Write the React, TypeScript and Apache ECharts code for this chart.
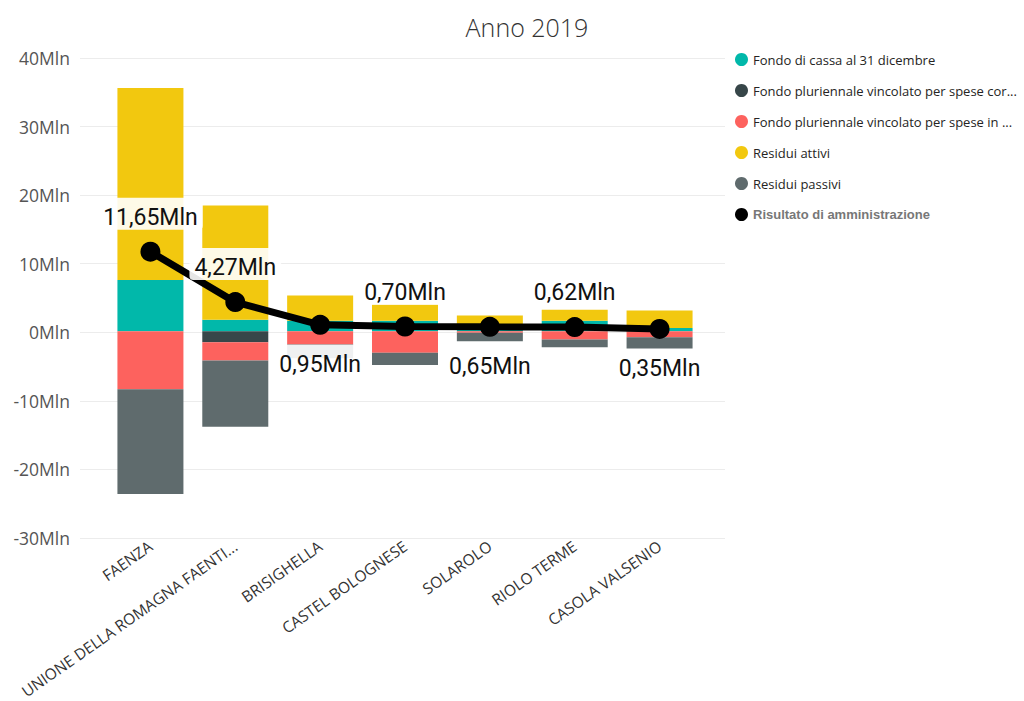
import React, { useEffect, useRef } from "react";
import * as echarts from "echarts";

const categories = [
  "FAENZA",
  "UNIONE DELLA ROMAGNA FAENTI...",
  "BRISIGHELLA",
  "CASTEL BOLOGNESE",
  "SOLAROLO",
  "RIOLO TERME",
  "CASOLA VALSENIO",
];
const fondoCassa = [7.5, 1.7, 1.55, 1.55, 0.9, 1.55, 0.48];
const fpvCorrenti = [0, -1.6, 0, 0, 0, 0, 0];
const fpvCapitale = [-8.5, -2.67, -1.95, -3.15, -0.2, -1.2, -0.87];
const residuiAttivi = [28.1, 16.7, 3.7, 2.35, 1.43, 1.6, 2.57];
const residuiPassivi = [-15.3, -9.7, -2.0, -1.8, -1.25, -1.13, -1.66];
const risultato = [11.65, 4.27, 0.95, 0.7, 0.65, 0.62, 0.35];
const yTicks = { min: -30, max: 40, interval: 10 };

const seriesNames = [
  "Fondo di cassa al 31 dicembre",
  "Fondo pluriennale vincolato per spese cor...",
  "Fondo pluriennale vincolato per spese in ...",
  "Residui attivi",
  "Residui passivi",
  "Risultato di amministrazione",
];
const colors = ["#01B8AA", "#374649", "#FD625E", "#F2C80F", "#5F6B6D", "#000000"];

export default function App() {
  const ref = useRef<HTMLDivElement>(null);
  useEffect(() => {
    if (!ref.current) return;
    const chart = echarts.init(ref.current, null, { renderer: "svg" });
    const below = new Set([2, 4, 6]);
    const barData = [fondoCassa, fpvCorrenti, fpvCapitale, residuiAttivi, residuiPassivi];
    const bars = barData.map((d, i) => ({
      name: seriesNames[i],
      type: "bar",
      stack: "tot",
      xAxisIndex: 0,
      yAxisIndex: 0,
      barWidth: 66,
      itemStyle: { color: colors[i] },
      data: d,
      z: 2,
    }));
    const option = {
      animation: false,
      graphic: [
        {
          type: "text",
          x: 527,
          y: 27,
          style: {
            text: "Anno 2019",
            textAlign: "center",
            textVerticalAlign: "middle",
            fontSize: 25,
            fontFamily: "Open Sans",
            fontWeight: 300,
            fill: "#333333",
          },
        },
      ],
      legend: {
        orient: "vertical",
        left: 730,
        top: 48,
        itemWidth: 13,
        itemHeight: 13,
        itemGap: 18,
        icon: "circle",
        textStyle: { fontSize: 13, fontFamily: "Open Sans", color: "#252423" },
        data: seriesNames.map((n, i) =>
          i === 5
            ? {
                name: n,
                icon: "circle",
                textStyle: {
                  fontFamily: "Liberation Sans",
                  fontWeight: "bold",
                  color: "#777777",
                  fontSize: 13,
                },
              }
            : { name: n, icon: "circle" }
        ),
      },
      grid: [
        { left: 108, right: 322, top: 58, bottom: 163 },
        { left: 80, right: 299, top: 58, bottom: 163 },
      ],
      xAxis: [
        {
          type: "category",
          gridIndex: 0,
          data: categories,
          axisLine: { show: false },
          axisTick: { show: false },
          axisLabel: {
            rotate: 35,
            interval: 0,
            margin: 8,
            fontSize: 15.5,
            fontFamily: "Open Sans",
            color: "#333333",
          },
        },
        { type: "value", gridIndex: 1, show: false, min: 0, max: 1 },
      ],
      yAxis: [
        {
          type: "value",
          gridIndex: 0,
          min: yTicks.min,
          max: yTicks.max,
          interval: yTicks.interval,
          show: false,
          splitLine: { show: false },
        },
        {
          type: "value",
          gridIndex: 1,
          min: yTicks.min,
          max: yTicks.max,
          interval: yTicks.interval,
          axisLine: { show: false },
          axisTick: { show: false },
          splitLine: { lineStyle: { color: "#ececec", width: 1 } },
          axisLabel: {
            formatter: (v: number) => `${v}Mln`,
            fontSize: 17.5,
            fontFamily: "Open Sans",
            color: "#555555",
            margin: 10,
          },
        },
      ],
      series: [
        ...bars,
        {
          name: seriesNames[5],
          type: "line",
          xAxisIndex: 0,
          yAxisIndex: 0,
          z: 5,
          symbol: "circle",
          symbolSize: 20,
          lineStyle: { color: "#000", width: 7 },
          itemStyle: { color: "#000" },
          data: risultato.map((v, i) => ({
            value: v,
            label: below.has(i)
              ? { position: "bottom", distance: 10 }
              : { position: "top", distance: 12 },
          })),
          label: {
            show: true,
            formatter: (p: any) => `${p.value.toFixed(2).replace(".", ",")}Mln`,
            fontFamily: "Roboto",
            fontSize: 23,
            color: "#111111",
            backgroundColor: "rgba(255,255,255,0.9)",
            padding: [8, 5, 1, 5],
            borderRadius: 4,
          },
        },
      ],
    };
    chart.setOption(option as any);
    return () => chart.dispose();
  }, []);
  return (
    <div
      ref={ref}
      style={{ position: "absolute", left: 0, top: 0, width: 1024, height: 701 }}
    />
  );
}
